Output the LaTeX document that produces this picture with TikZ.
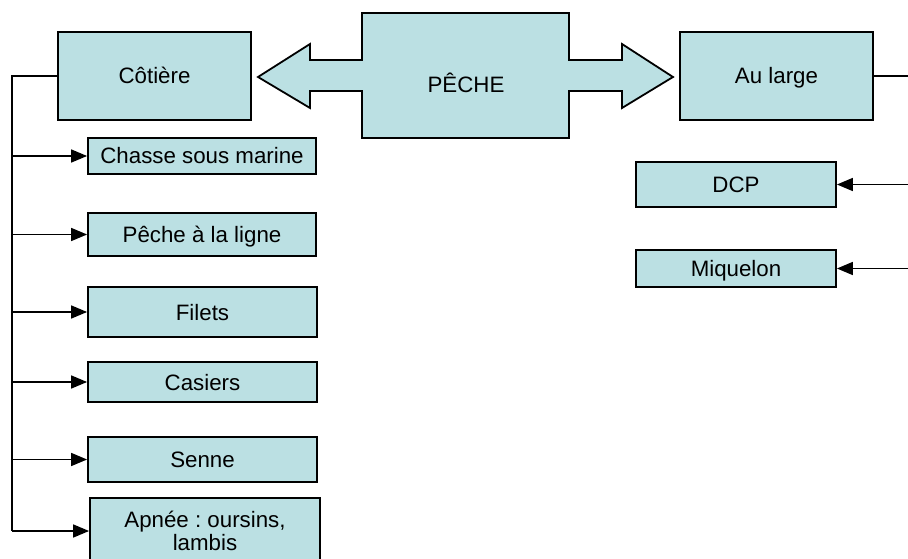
\documentclass[tikz,border=0pt]{standalone}
\usepackage{fontspec}
\setmainfont{Liberation Sans}
\frenchspacing
\usetikzlibrary{arrows.meta}
\definecolor{boxfill}{HTML}{BBE0E3}
\begin{document}
\begin{tikzpicture}[x=1pt,y=-1pt,
  txt/.style={font=\fontsize{22.3}{22.3}\selectfont},
  box/.style={draw=black, fill=boxfill, line width=1.8pt, inner sep=0pt, txt},
  onel/.style={text height=16pt, text depth=0pt},
  conn/.style={line width=1.6pt},
  arr/.style={conn, -{Triangle[length=16pt,width=13pt]}}]
\useasboundingbox (0,0) rectangle (908,559);
\clip (0,0) rectangle (908,559);
% central double arrow
\draw[line width=1.8pt, fill=boxfill, line join=miter]
  (362,13) -- (569,13) -- (569,60) -- (622,60) -- (622,44) -- (673,77)
  -- (622,108) -- (622,91) -- (569,91) -- (569,138) -- (362,138)
  -- (362,91) -- (310,91) -- (310,108) -- (258,77) -- (310,44)
  -- (310,60) -- (362,60) -- cycle;
\node[txt, onel, inner sep=0pt] (peche) at (466,85) {PÊCHE};
% top boxes
\node[box, onel, minimum width=193pt, minimum height=88pt] (cot) at (154.5,76) {Côtière};
\node[box, onel, minimum width=193pt, minimum height=88pt] (large) at (776.5,76) {Au large};
% left column
\node[box, onel, minimum width=228pt, minimum height=36pt] (chasse) at (202,156) {Chasse sous marine};
\node[box, onel, minimum width=228pt, minimum height=43pt] (ligne) at (202,234.5) {Pêche à la ligne};
\node[box, onel, minimum width=229pt, minimum height=50pt] (filets) at (202.5,312) {Filets};
\node[box, onel, minimum width=229pt, minimum height=40pt] (casiers) at (202.5,382) {Casiers};
\node[box, onel, minimum width=229pt, minimum height=45pt] (senne) at (202.5,459.5) {Senne};
\node[box, align=center, minimum width=230pt, minimum height=66pt] (apnee) at (205,531) {Apnée : oursins,\\lambis};
% right column
\node[box, onel, minimum width=200pt, minimum height=45pt] (dcp) at (736,184.5) {DCP};
\node[box, onel, minimum width=200pt, minimum height=37pt] (miq) at (736,268.5) {Miquelon};
% left connectors
\coordinate (s0) at (12,76);
\coordinate (s6) at (12,531);
\draw[conn] (cot.west) -- (s0) -- (s6);
\foreach \n in {chasse,ligne,filets,casiers,senne,apnee}
  \draw[arr] (s0 |- \n.west) -- (\n.west);
% right connectors
\coordinate (r0) at (930,76);
\coordinate (r2) at (930,268.5);
\draw[conn] (large.east) -- (r0) -- (r2);
\foreach \n in {dcp,miq}
  \draw[arr] (r0 |- \n.east) -- (\n.east);
\end{tikzpicture}
\end{document}
